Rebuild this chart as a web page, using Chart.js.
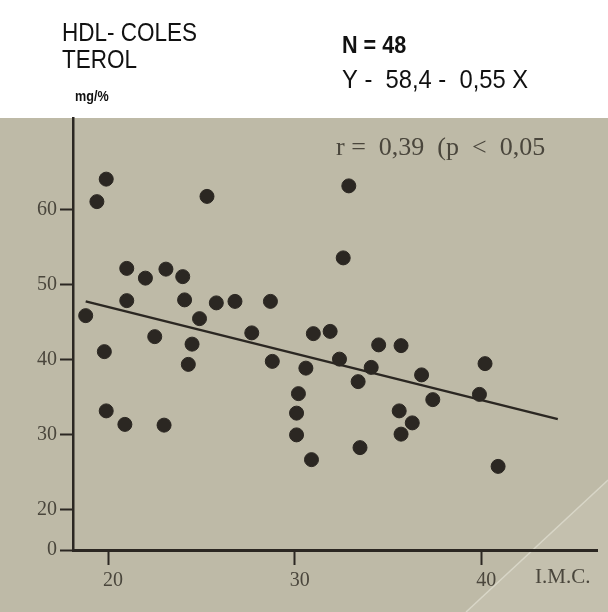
<!DOCTYPE html>
<html>
<head>
<meta charset="utf-8">
<script src="https://cdn.jsdelivr.net/npm/chart.js@4/dist/chart.umd.min.js"></script>
<style>
  body { margin: 0; background: #fff; }
  #wrap { width: 608px; height: 612px; }
</style>
</head>
<body>
<div id="wrap"><canvas id="hdlChart" width="608" height="612"></canvas></div>
<script>
// IMC (x) y HDL-colesterol (y)
const imc = [19.9, 19.4, 25.3, 21.0, 22.0, 23.1, 24.0, 21.0, 24.1, 25.8, 26.8, 28.7, 18.8, 24.9, 22.5, 24.5,
             27.7, 19.8, 24.3, 28.8, 32.9, 32.6, 31.0, 31.9, 34.5, 35.7, 32.4, 30.6, 34.1, 36.8, 33.4, 40.2,
             30.2, 39.9, 37.4, 19.9, 20.9, 23.0, 30.1, 35.6, 36.3, 30.1, 35.7, 33.5, 30.9, 40.9];
const hdl = [64.1, 61.1, 61.8, 52.2, 50.9, 52.1, 51.1, 47.9, 48.0, 47.6, 47.8, 47.8, 45.9, 45.5, 43.1, 42.1,
             43.6, 41.1, 39.4, 39.8, 63.2, 53.6, 43.5, 43.8, 42.0, 41.9, 40.1, 38.9, 39.0, 38.0, 37.1, 39.5,
             35.5, 35.4, 34.7, 33.2, 31.4, 31.3, 32.9, 33.2, 31.6, 30.0, 30.1, 28.3, 26.7, 25.8];

// recta de regresión tal como está dibujada
const lineX = [18.8, 44.1];
const lineY = [47.8, 32.1];

// ejes (el eje y está cortado: el "0" va en la base)
const xTicks = [20, 30, 40];
const yTicks = [14.65, 20, 30, 40, 50, 60];
const yBreak = 14.65;

const ink = '#2b2722';
const labelInk = '#4a463c';
const sans = '"Liberation Sans", Arial, sans-serif';
const serif = '"Liberation Serif", "Times New Roman", serif';

// texto algo estrecho, como el original
function narrowText(c, txt, x, y, font, squeeze) {
    c.save();
    c.font = font;
    c.translate(x, y);
    c.scale(squeeze, 1);
    c.fillText(txt, 0, 0);
    c.restore();
}

const paper = {
    id: 'paper',
    beforeDraw(chart) {
        let c = chart.ctx;
        c.save();
        c.fillStyle = '#ffffff';
        c.fillRect(0, 0, 608, 612);
        c.fillStyle = '#bebaa7';
        c.fillRect(0, 118, 608, 494);
        // pliegue claro abajo a la derecha
        c.fillStyle = 'rgba(225,223,210,0.18)';
        c.beginPath();
        c.moveTo(608, 480);
        c.lineTo(466, 612);
        c.lineTo(608, 612);
        c.closePath();
        c.fill();
        c.strokeStyle = 'rgba(235,233,222,0.55)';
        c.lineWidth = 1.5;
        c.beginPath();
        c.moveTo(608, 480);
        c.lineTo(466, 612);
        c.stroke();
        c.restore();
    },
    afterDraw(chart) {
        let c = chart.ctx;
        c.save();
        c.fillStyle = '#111';
        c.textBaseline = 'middle';
        narrowText(c, 'HDL- COLES', 62, 34, '25px ' + sans, 0.9);
        narrowText(c, 'TEROL', 62, 61, '25px ' + sans, 0.9);
        narrowText(c, 'mg/%', 75, 97, 'bold 14px ' + sans, 0.9);
        narrowText(c, 'N = 48', 342, 46, 'bold 24px ' + sans, 0.9);
        narrowText(c, 'Y -  58,4 -  0,55 X', 342, 81, '25px ' + sans, 0.95);
        c.fillStyle = labelInk;
        c.font = '26px ' + serif;
        c.fillText('r =  0,39  (p  <  0,05', 336, 148);
        c.font = '21px ' + serif;
        c.fillText('I.M.C.', 535, 577);
        c.restore();
    }
};

let ctx = document.getElementById('hdlChart').getContext('2d');
new Chart(ctx, {
    type: 'scatter',
    data: {
        datasets: [{
            label: 'pacientes',
            data: imc.map((x, i) => ({ x: x, y: hdl[i] })),
            backgroundColor: ink,
            borderColor: ink,
            pointRadius: 7,
            pointHoverRadius: 7
        }, {
            type: 'line',
            label: 'regresión',
            data: lineX.map((x, i) => ({ x: x, y: lineY[i] })),
            borderColor: ink,
            borderWidth: 2.5,
            pointRadius: 0,
            fill: false
        }]
    },
    options: {
        responsive: false,
        animation: false,
        layout: { padding: { top: 118, right: 11, left: 0, bottom: 0 } },
        plugins: {
            legend: { display: false },
            tooltip: { enabled: false }
        },
        scales: {
            x: {
                type: 'linear',
                min: 18.12,
                max: 46.2,
                afterBuildTicks: (scale) => { scale.ticks = xTicks.map(v => ({ value: v })); },
                afterFit: (scale) => { scale.height = 62; },
                grid: { drawOnChartArea: false, tickLength: 15, tickColor: ink, tickWidth: 2 },
                border: { color: ink, width: 3 },
                ticks: {
                    color: labelInk,
                    padding: 4,
                    labelOffset: 5,
                    font: { family: serif, size: 20 }
                }
            },
            y: {
                type: 'linear',
                min: yBreak,
                max: 72.25,
                afterBuildTicks: (scale) => { scale.ticks = yTicks.map(v => ({ value: v })); },
                afterFit: (scale) => { scale.width = 73; },
                grid: { drawOnChartArea: false, tickLength: 13, tickColor: ink, tickWidth: 2 },
                border: { color: ink, width: 2.5 },
                ticks: {
                    color: labelInk,
                    padding: 3,
                    font: { family: serif, size: 20 },
                    callback: (v) => v <= yBreak + 0.01 ? '0' : v
                }
            }
        }
    },
    plugins: [paper]
});
</script>
</body>
</html>
